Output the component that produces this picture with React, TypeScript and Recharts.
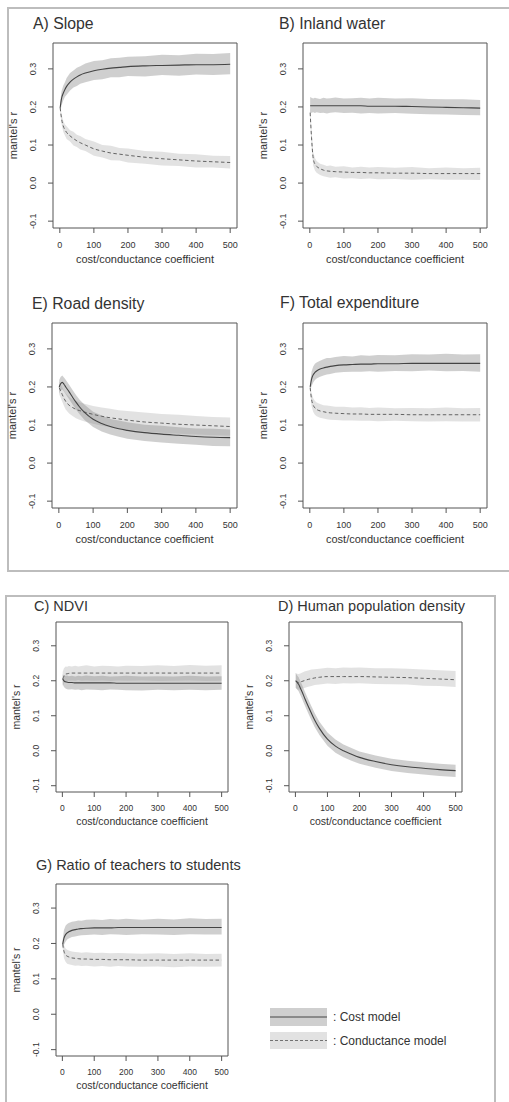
import React from "react";
import { ComposedChart, Area, Line, XAxis, YAxis, ReferenceArea } from "recharts";

// cost/conductance coefficient values where the curves were sampled
const xs = [1, 5, 10, 15, 20, 30, 40, 50, 60, 75, 100, 125, 150, 175, 200, 250, 300, 350, 400, 450, 500];
const xTicks = [0, 100, 200, 300, 400, 500];
const yTicks = [-0.1, 0, 0.1, 0.2, 0.3];

// A) Slope
const slopeCostMean = [0.198, 0.222, 0.236, 0.246, 0.254, 0.265, 0.273, 0.279, 0.284, 0.289, 0.295, 0.299, 0.302, 0.304, 0.306, 0.308, 0.309, 0.31, 0.311, 0.311, 0.312];
const slopeCostHi = [0.212, 0.241, 0.256, 0.265, 0.276, 0.289, 0.296, 0.303, 0.307, 0.314, 0.321, 0.323, 0.328, 0.329, 0.332, 0.333, 0.337, 0.336, 0.34, 0.339, 0.342];
const slopeCostLo = [0.186, 0.204, 0.217, 0.227, 0.232, 0.243, 0.251, 0.255, 0.261, 0.265, 0.271, 0.273, 0.278, 0.278, 0.281, 0.28, 0.284, 0.282, 0.285, 0.284, 0.286];
const slopeCondMean = [0.198, 0.17, 0.15, 0.14, 0.133, 0.124, 0.117, 0.111, 0.106, 0.1, 0.09, 0.084, 0.079, 0.076, 0.073, 0.068, 0.064, 0.061, 0.058, 0.056, 0.054];
const slopeCondHi = [0.206, 0.181, 0.164, 0.154, 0.149, 0.139, 0.135, 0.127, 0.124, 0.116, 0.109, 0.1, 0.098, 0.092, 0.091, 0.084, 0.082, 0.077, 0.076, 0.072, 0.071];
const slopeCondLo = [0.19, 0.156, 0.135, 0.125, 0.116, 0.109, 0.099, 0.095, 0.088, 0.084, 0.072, 0.067, 0.06, 0.059, 0.054, 0.051, 0.046, 0.045, 0.041, 0.041, 0.038];

// B) Inland water
const waterCostMean = [0.203, 0.203, 0.203, 0.203, 0.203, 0.203, 0.203, 0.203, 0.203, 0.203, 0.203, 0.203, 0.203, 0.202, 0.202, 0.202, 0.201, 0.2, 0.199, 0.198, 0.197];
const waterCostHi = [0.226, 0.224, 0.222, 0.224, 0.223, 0.221, 0.224, 0.222, 0.223, 0.225, 0.222, 0.223, 0.224, 0.222, 0.224, 0.222, 0.223, 0.221, 0.22, 0.22, 0.218];
const waterCostLo = [0.183, 0.185, 0.186, 0.184, 0.186, 0.184, 0.185, 0.183, 0.185, 0.186, 0.184, 0.185, 0.183, 0.184, 0.183, 0.184, 0.182, 0.181, 0.18, 0.179, 0.178];
const waterCondMean = [0.185, 0.12, 0.065, 0.05, 0.044, 0.038, 0.034, 0.032, 0.031, 0.03, 0.029, 0.028, 0.028, 0.027, 0.027, 0.026, 0.026, 0.025, 0.025, 0.025, 0.025];
const waterCondHi = [0.2, 0.14, 0.081, 0.066, 0.058, 0.051, 0.048, 0.045, 0.046, 0.043, 0.044, 0.041, 0.043, 0.041, 0.042, 0.04, 0.042, 0.039, 0.041, 0.039, 0.04];
const waterCondLo = [0.17, 0.1, 0.046, 0.033, 0.027, 0.021, 0.018, 0.016, 0.014, 0.015, 0.012, 0.013, 0.011, 0.012, 0.01, 0.011, 0.009, 0.01, 0.009, 0.009, 0.008];

// E) Road density
const roadCostMean = [0.2, 0.208, 0.212, 0.207, 0.2, 0.187, 0.173, 0.16, 0.148, 0.133, 0.115, 0.104, 0.096, 0.09, 0.086, 0.08, 0.076, 0.073, 0.07, 0.068, 0.067];
const roadCostHi = [0.218, 0.226, 0.23, 0.225, 0.219, 0.206, 0.192, 0.179, 0.167, 0.153, 0.135, 0.125, 0.116, 0.112, 0.107, 0.101, 0.098, 0.094, 0.091, 0.09, 0.088];
const roadCostLo = [0.183, 0.19, 0.194, 0.188, 0.181, 0.168, 0.154, 0.141, 0.129, 0.113, 0.095, 0.083, 0.075, 0.069, 0.064, 0.058, 0.054, 0.051, 0.048, 0.045, 0.044];
const roadCondMean = [0.198, 0.19, 0.18, 0.17, 0.162, 0.152, 0.146, 0.141, 0.138, 0.134, 0.128, 0.123, 0.119, 0.116, 0.113, 0.108, 0.105, 0.102, 0.1, 0.098, 0.096];
const roadCondHi = [0.214, 0.208, 0.199, 0.19, 0.183, 0.174, 0.168, 0.163, 0.16, 0.156, 0.15, 0.146, 0.143, 0.139, 0.137, 0.133, 0.129, 0.127, 0.124, 0.121, 0.12];
const roadCondLo = [0.181, 0.172, 0.161, 0.15, 0.141, 0.13, 0.124, 0.118, 0.114, 0.109, 0.103, 0.098, 0.094, 0.091, 0.088, 0.083, 0.08, 0.077, 0.075, 0.073, 0.072];

// F) Total expenditure
const expCostMean = [0.2, 0.22, 0.232, 0.238, 0.242, 0.247, 0.25, 0.252, 0.254, 0.256, 0.258, 0.259, 0.26, 0.26, 0.261, 0.261, 0.262, 0.262, 0.262, 0.262, 0.262];
const expCostHi = [0.21, 0.24, 0.254, 0.261, 0.264, 0.269, 0.273, 0.276, 0.276, 0.279, 0.281, 0.28, 0.283, 0.282, 0.284, 0.283, 0.286, 0.285, 0.287, 0.285, 0.286];
const expCostLo = [0.19, 0.202, 0.212, 0.218, 0.222, 0.227, 0.23, 0.233, 0.234, 0.237, 0.239, 0.24, 0.24, 0.241, 0.24, 0.242, 0.241, 0.243, 0.241, 0.242, 0.24];
const expCondMean = [0.198, 0.168, 0.152, 0.145, 0.141, 0.137, 0.135, 0.133, 0.132, 0.131, 0.13, 0.129, 0.129, 0.128, 0.128, 0.128, 0.127, 0.127, 0.127, 0.127, 0.127];
const expCondHi = [0.206, 0.184, 0.17, 0.163, 0.159, 0.155, 0.152, 0.151, 0.15, 0.148, 0.148, 0.146, 0.147, 0.145, 0.146, 0.144, 0.145, 0.144, 0.146, 0.144, 0.145];
const expCondLo = [0.19, 0.15, 0.134, 0.127, 0.123, 0.119, 0.117, 0.115, 0.114, 0.113, 0.112, 0.112, 0.111, 0.111, 0.11, 0.111, 0.11, 0.109, 0.11, 0.109, 0.109];

// C) NDVI
const ndviCostMean = [0.205, 0.2, 0.197, 0.196, 0.195, 0.195, 0.194, 0.194, 0.194, 0.194, 0.194, 0.194, 0.194, 0.193, 0.193, 0.193, 0.193, 0.193, 0.193, 0.193, 0.193];
const ndviCostHi = [0.218, 0.216, 0.214, 0.215, 0.213, 0.214, 0.212, 0.214, 0.213, 0.215, 0.213, 0.214, 0.212, 0.213, 0.214, 0.212, 0.213, 0.212, 0.214, 0.212, 0.213];
const ndviCostLo = [0.19, 0.182, 0.178, 0.176, 0.175, 0.176, 0.174, 0.175, 0.173, 0.175, 0.174, 0.173, 0.175, 0.174, 0.173, 0.172, 0.174, 0.173, 0.174, 0.173, 0.174];
const ndviCondMean = [0.205, 0.213, 0.219, 0.22, 0.221, 0.222, 0.222, 0.222, 0.222, 0.222, 0.222, 0.222, 0.222, 0.222, 0.222, 0.222, 0.222, 0.222, 0.222, 0.222, 0.222];
const ndviCondHi = [0.225, 0.236, 0.241, 0.24, 0.242, 0.241, 0.243, 0.241, 0.242, 0.244, 0.241, 0.243, 0.242, 0.241, 0.243, 0.242, 0.244, 0.242, 0.245, 0.243, 0.244];
const ndviCondLo = [0.185, 0.192, 0.198, 0.199, 0.2, 0.201, 0.2, 0.202, 0.2, 0.201, 0.2, 0.201, 0.199, 0.201, 0.2, 0.201, 0.199, 0.2, 0.201, 0.199, 0.2];

// D) Human population density
const popCostMean = [0.2, 0.196, 0.19, 0.18, 0.17, 0.148, 0.127, 0.107, 0.088, 0.064, 0.033, 0.013, 0.0, -0.01, -0.019, -0.031, -0.04, -0.046, -0.05, -0.054, -0.057];
const popCostHi = [0.222, 0.216, 0.21, 0.2, 0.19, 0.168, 0.147, 0.127, 0.108, 0.083, 0.052, 0.032, 0.018, 0.008, -0.002, -0.014, -0.023, -0.029, -0.033, -0.037, -0.04];
const popCostLo = [0.18, 0.176, 0.17, 0.16, 0.15, 0.128, 0.107, 0.087, 0.068, 0.045, 0.014, -0.006, -0.019, -0.029, -0.037, -0.049, -0.058, -0.064, -0.068, -0.072, -0.075];
const popCondMean = [0.2, 0.197, 0.195, 0.196, 0.198, 0.201, 0.204, 0.206, 0.208, 0.21, 0.212, 0.212, 0.212, 0.212, 0.212, 0.211, 0.21, 0.209, 0.207, 0.205, 0.203];
const popCondHi = [0.222, 0.22, 0.219, 0.221, 0.223, 0.227, 0.229, 0.232, 0.233, 0.234, 0.237, 0.236, 0.238, 0.237, 0.238, 0.236, 0.236, 0.234, 0.232, 0.23, 0.228];
const popCondLo = [0.18, 0.176, 0.174, 0.175, 0.177, 0.18, 0.183, 0.185, 0.188, 0.189, 0.192, 0.191, 0.193, 0.192, 0.193, 0.191, 0.19, 0.189, 0.186, 0.185, 0.182];

// G) Ratio of teachers to students
const teachCostMean = [0.198, 0.215, 0.225, 0.23, 0.233, 0.237, 0.239, 0.241, 0.242, 0.243, 0.244, 0.244, 0.244, 0.245, 0.245, 0.245, 0.245, 0.245, 0.245, 0.245, 0.245];
const teachCostHi = [0.21, 0.238, 0.25, 0.255, 0.258, 0.261, 0.263, 0.265, 0.264, 0.267, 0.268, 0.266, 0.269, 0.268, 0.27, 0.267, 0.27, 0.268, 0.271, 0.269, 0.27];
const teachCostLo = [0.186, 0.196, 0.205, 0.211, 0.214, 0.218, 0.22, 0.222, 0.223, 0.224, 0.225, 0.224, 0.226, 0.225, 0.224, 0.226, 0.225, 0.224, 0.226, 0.225, 0.225];
const teachCondMean = [0.198, 0.178, 0.168, 0.164, 0.162, 0.159, 0.158, 0.157, 0.156, 0.156, 0.155, 0.155, 0.154, 0.154, 0.154, 0.153, 0.153, 0.153, 0.153, 0.153, 0.153];
const teachCondHi = [0.208, 0.195, 0.186, 0.182, 0.18, 0.177, 0.176, 0.175, 0.174, 0.175, 0.173, 0.174, 0.172, 0.173, 0.172, 0.171, 0.172, 0.17, 0.172, 0.17, 0.171];
const teachCondLo = [0.188, 0.158, 0.148, 0.143, 0.141, 0.139, 0.137, 0.138, 0.136, 0.137, 0.135, 0.136, 0.134, 0.136, 0.135, 0.134, 0.135, 0.133, 0.135, 0.134, 0.135];

const X_DOMAIN = [-20, 520];
const Y_DOMAIN = [-0.118, 0.368];

const COST_FILL = "#8c8c8c";
const COND_FILL = "#b4b4b4";
const INK = "#333";
const FONT = "'Liberation Sans', Arial, Helvetica, sans-serif";

const PAD_L = 50;
const PAD_T = 10;
const PAD_R = 10;
const AXIS_H = 45;

function Panel({ left, top, w, h, small, costMean, costLo, costHi, condMean, condLo, condHi }) {
  const data = xs.map((x, i) => ({
    x,
    costMean: costMean[i],
    costBand: [costLo[i], costHi[i]],
    condMean: condMean[i],
    condBand: [condLo[i], condHi[i]],
  }));
  const plotBottom = PAD_T + h;
  const tickFs = small ? 8.5 : 9;
  const labFs = small ? 10.5 : 11;
  const tickDy = small ? 18.5 : 20;
  const labOffset = small ? 12 : 10;

  const XTick = (p) => (
    <text x={p.x} y={plotBottom + tickDy} textAnchor="middle" fontSize={tickFs} fill={INK}>
      {p.payload.value}
    </text>
  );
  const YTick = (p) => (
    <text
      x={PAD_L - 17}
      y={p.y}
      transform={`rotate(-90, ${PAD_L - 17}, ${p.y})`}
      textAnchor="middle"
      fontSize={tickFs}
      fill={INK}
    >
      {Number(p.payload.value).toFixed(1)}
    </text>
  );

  return (
    <div style={{ position: "absolute", left: left - PAD_L, top: top - PAD_T }}>
      <ComposedChart
        width={w + PAD_L + PAD_R}
        height={h + PAD_T + AXIS_H}
        data={data}
        margin={{ top: PAD_T, right: PAD_R, left: 0, bottom: 0 }}
      >
        <XAxis
          type="number"
          dataKey="x"
          domain={X_DOMAIN}
          ticks={xTicks}
          interval={0}
          allowDataOverflow
          axisLine={false}
          tickSize={5}
          tickLine={{ stroke: "#555" }}
          height={AXIS_H}
          tick={XTick}
          label={{
            value: "cost/conductance coefficient",
            position: "insideBottom",
            offset: labOffset,
            fontSize: labFs,
            fill: INK,
          }}
        />
        <YAxis
          type="number"
          domain={Y_DOMAIN}
          ticks={yTicks}
          interval={0}
          allowDataOverflow
          axisLine={false}
          width={PAD_L}
          tickSize={5}
          tickLine={{ stroke: "#555" }}
          tick={YTick}
          label={{
            value: "mantel's r",
            angle: -90,
            position: "insideLeft",
            offset: 10,
            fontSize: labFs,
            fill: INK,
            style: { textAnchor: "middle" },
          }}
        />
        <Area
          type="linear"
          dataKey="condBand"
          fill={COND_FILL}
          fillOpacity={0.38}
          stroke="none"
          isAnimationActive={false}
          activeDot={false}
        />
        <Area
          type="linear"
          dataKey="costBand"
          fill={COST_FILL}
          fillOpacity={0.42}
          stroke="none"
          isAnimationActive={false}
          activeDot={false}
        />
        <Line
          type="monotone"
          dataKey="condMean"
          stroke="#555"
          strokeWidth={0.9}
          strokeDasharray="3.5 2.5"
          dot={false}
          activeDot={false}
          isAnimationActive={false}
        />
        <Line
          type="monotone"
          dataKey="costMean"
          stroke="#444"
          strokeWidth={1.1}
          dot={false}
          activeDot={false}
          isAnimationActive={false}
        />
        <ReferenceArea
          x1={X_DOMAIN[0]}
          x2={X_DOMAIN[1]}
          y1={Y_DOMAIN[0]}
          y2={Y_DOMAIN[1]}
          fill="none"
          fillOpacity={0}
          stroke="#555"
          strokeWidth={1}
          ifOverflow="visible"
        />
      </ComposedChart>
    </div>
  );
}

export default function App() {
  return (
    <div
      style={{
        position: "absolute",
        left: 0,
        top: 0,
        width: 509,
        height: 1102,
        overflow: "hidden",
        background: "#fff",
        fontFamily: FONT,
      }}
    >
      <svg width={509} height={1102} style={{ position: "absolute", left: 0, top: 0 }}>
        {/* frames around the two groups of panels */}
        <rect x={8} y={8} width={540} height={563} fill="none" stroke="#bdbdbd" strokeWidth={2} />
        <rect x={6} y={596} width={489} height={540} fill="none" stroke="#bdbdbd" strokeWidth={2} />

        <g fill={INK} fontSize={15.8}>
          <text x={33} y={29}>A) Slope</text>
          <text x={279} y={29}>B) Inland water</text>
          <text x={32} y={309}>E) Road density</text>
          <text x={280} y={308}>F) Total expenditure</text>
        </g>
        <g fill={INK} fontSize={14.5}>
          <text x={34} y={611}>C) NDVI</text>
          <text x={278} y={611}>D) Human population density</text>
          <text x={36} y={870}>G) Ratio of teachers to students</text>
        </g>

        {/* legend */}
        <rect x={270} y={1008} width={57} height={18} fill={COST_FILL} fillOpacity={0.42} />
        <line x1={270} x2={327} y1={1017} y2={1017} stroke="#444" strokeWidth={1} />
        <rect x={270} y={1032} width={57} height={17} fill={COND_FILL} fillOpacity={0.38} />
        <line x1={270} x2={327} y1={1040.5} y2={1040.5} stroke="#555" strokeWidth={0.8} strokeDasharray="3 2" />
        <g fill={INK} fontSize={12}>
          <text x={333} y={1021}>: Cost model</text>
          <text x={333} y={1045}>: Conductance model</text>
        </g>
      </svg>

      <Panel left={53} top={43} w={184} h={185} costMean={slopeCostMean} costLo={slopeCostLo} costHi={slopeCostHi} condMean={slopeCondMean} condLo={slopeCondLo} condHi={slopeCondHi} />
      <Panel left={303} top={43} w={184} h={185} costMean={waterCostMean} costLo={waterCostLo} costHi={waterCostHi} condMean={waterCondMean} condLo={waterCondLo} condHi={waterCondHi} />
      <Panel left={52} top={323} w={185} h={185} costMean={roadCostMean} costLo={roadCostLo} costHi={roadCostHi} condMean={roadCondMean} condLo={roadCondLo} condHi={roadCondHi} />
      <Panel left={303} top={323} w={184} h={185} costMean={expCostMean} costLo={expCostLo} costHi={expCostHi} condMean={expCondMean} condLo={expCondLo} condHi={expCondHi} />
      <Panel small left={56} top={622} w={172} h={170} costMean={ndviCostMean} costLo={ndviCostLo} costHi={ndviCostHi} condMean={ndviCondMean} condLo={ndviCondLo} condHi={ndviCondHi} />
      <Panel small left={289} top={622} w={173} h={170} costMean={popCostMean} costLo={popCostLo} costHi={popCostHi} condMean={popCondMean} condLo={popCondLo} condHi={popCondHi} />
      <Panel small left={56} top={884} w={172} h={172} costMean={teachCostMean} costLo={teachCostLo} costHi={teachCostHi} condMean={teachCondMean} condLo={teachCondLo} condHi={teachCondHi} />
    </div>
  );
}
